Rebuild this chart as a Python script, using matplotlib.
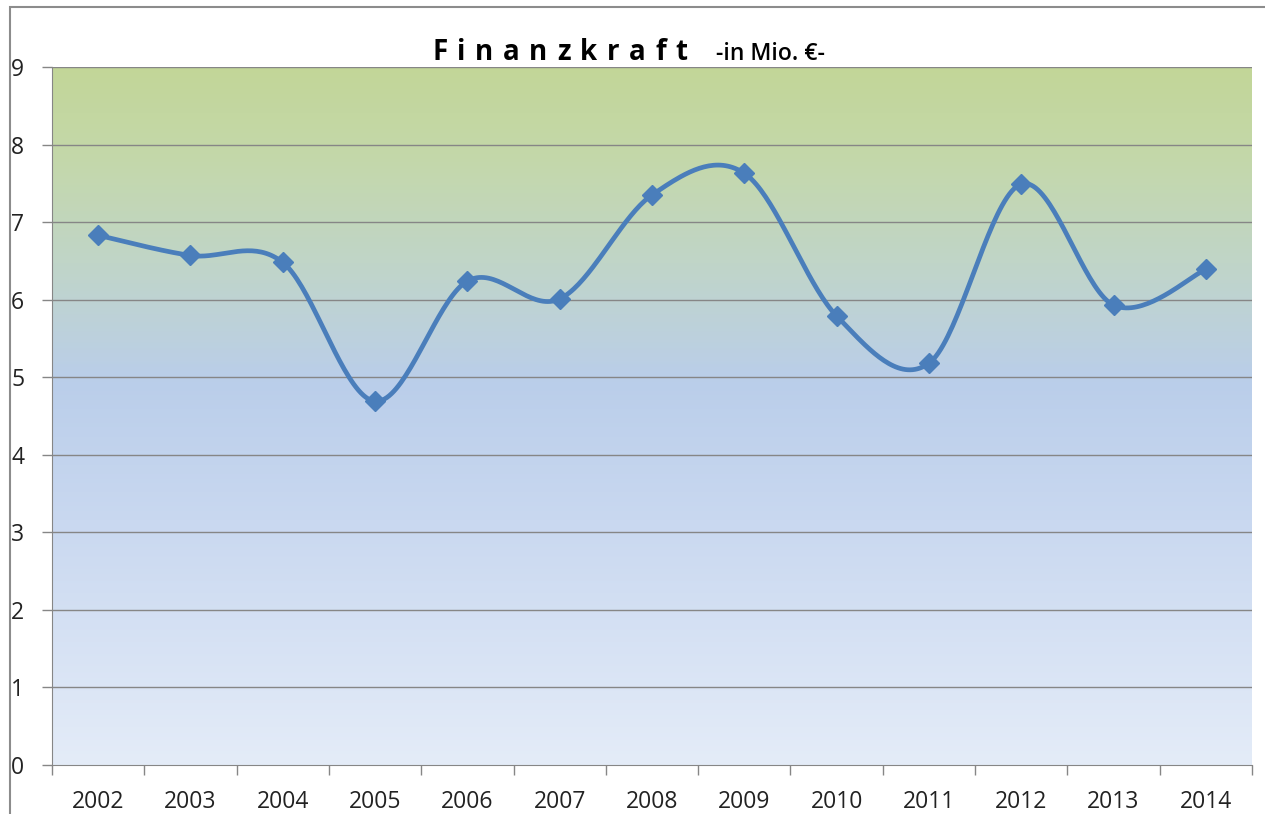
import numpy as np
import matplotlib
matplotlib.use("Agg")
import matplotlib.pyplot as plt
from matplotlib.patches import Rectangle
from matplotlib.colors import LinearSegmentedColormap

years = ["2002", "2003", "2004", "2005", "2006", "2007", "2008", "2009", "2010", "2011", "2012", "2013", "2014"]
values = [6.83, 6.57, 6.48, 4.69, 6.24, 6.01, 7.35, 7.63, 5.79, 5.18, 7.49, 5.93, 6.39]
yticks = [0, 1, 2, 3, 4, 5, 6, 7, 8, 9]
title_main = "Finanzkraft"
title_sub = "-in Mio. €-"

plt.rcParams['font.family'] = ['Open Sans', 'DejaVu Sans']

W, H = 1265, 814
fig = plt.figure(figsize=(W / 100, H / 100), dpi=100)
ax = fig.add_axes([52/W, 49/H, 1200/W, 698/H])

# gradient background
cmap = LinearSegmentedColormap.from_list("bg", [
    (0.0, (228/255, 236/255, 248/255)),
    (0.35, (201/255, 216/255, 240/255)),
    (0.55, (186/255, 206/255, 234/255)),
    (0.72, (192/255, 213/255, 200/255)),
    (0.87, (196/255, 216/255, 170/255)),
    (1.0, (194/255, 214/255, 152/255)),
])
grad = np.linspace(0, 1, 256).reshape(-1, 1)
n = len(years)
ax.imshow(grad, aspect='auto', cmap=cmap, origin='lower',
          extent=[-0.5, n - 0.5, 0, 9], zorder=0)

# smooth curve (Catmull-Rom style Bezier like Excel)
x = np.arange(n, dtype=float)
y = np.array(values, dtype=float)
px, py = [], []
t = np.linspace(0, 1, 40)
for i in range(n - 1):
    p0 = np.array([x[i - 1] if i > 0 else x[i], y[i - 1] if i > 0 else y[i]])
    p1 = np.array([x[i], y[i]])
    p2 = np.array([x[i + 1], y[i + 1]])
    p3 = np.array([x[i + 2] if i + 2 < n else x[i + 1], y[i + 2] if i + 2 < n else y[i + 1]])
    c1 = p1 + (p2 - p0) / 6
    c2 = p2 - (p3 - p1) / 6
    for tt in t:
        b = ((1 - tt) ** 3) * p1 + 3 * ((1 - tt) ** 2) * tt * c1 + 3 * (1 - tt) * tt ** 2 * c2 + tt ** 3 * p2
        px.append(b[0]); py.append(b[1])

ax.plot(px, py, color='#4a7ebb', lw=3.4, zorder=3, solid_capstyle='round')
ax.plot(x, y, linestyle='none', marker='D', ms=10.5, color='#4a7ebb',
        markeredgecolor='#4a7ebb', zorder=4)

ax.set_xlim(-0.5, n - 0.5)
ax.set_ylim(0, 9)
ax.set_yticks(yticks)
ax.set_yticklabels([str(v) for v in yticks])
for v in yticks[1:]:
    ax.axhline(v, color='#868686', lw=1.0, zorder=1)

ax.set_xticks(x)
ax.set_xticklabels(years)
ax.set_xticks(np.arange(-0.5, n, 1), minor=True)
ax.tick_params(axis='x', which='major', length=0, labelsize=16.5, pad=18, labelcolor='#222222')
ax.tick_params(axis='x', which='minor', length=7, color='#868686', width=1)
ax.tick_params(axis='y', length=7, color='#868686', width=1, labelsize=16.5, pad=13,
               labelcolor='#222222')

for s in ['top', 'right']:
    ax.spines[s].set_visible(False)
ax.spines['left'].set_color('#868686')
ax.spines['bottom'].set_color('#868686')
ax.spines['left'].set_zorder(5)

# title with letter spacing
fig.canvas.draw()
renderer = fig.canvas.get_renderer()
gap = 9.6  # px between letters
xpos = 432.0
ty = 1 - 52/H
for ch in title_main:
    tx = fig.text(xpos / W, ty, ch, fontsize=20, fontweight='bold',
                  ha='left', va='center', color='black')
    w = tx.get_window_extent(renderer).width
    xpos += w + gap
fig.text(716/W, 1 - 54/H, title_sub, fontsize=16.5, fontweight='semibold',
         ha='left', va='center', color='black')

# outer frame
fig.add_artist(Rectangle((10/W, -0.01), 1.2, 1 - 7/H + 0.01, transform=fig.transFigure,
                         fill=False, edgecolor='#8c8c8c', lw=1.5))

fig.savefig("out.png", dpi=100, facecolor='white')
